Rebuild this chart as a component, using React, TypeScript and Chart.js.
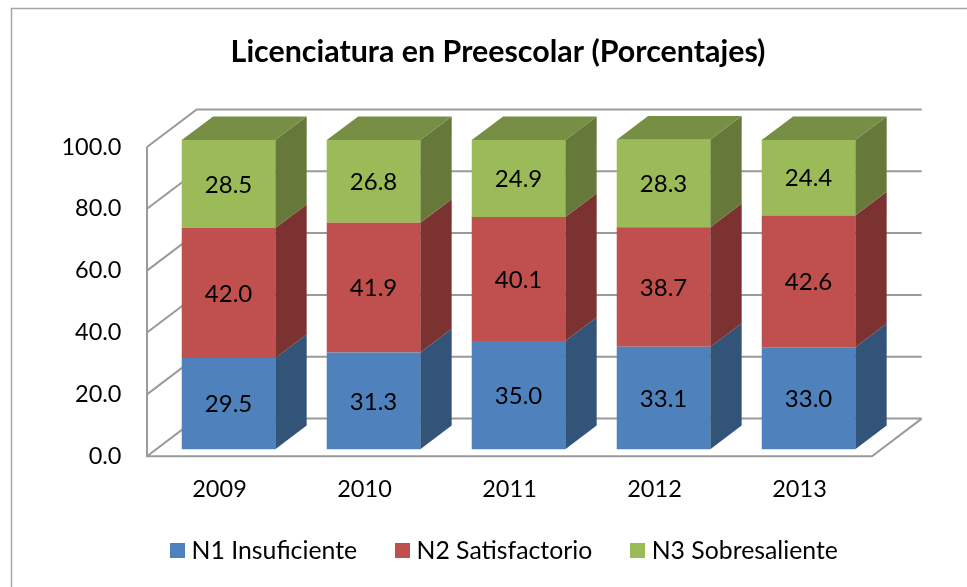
import React, { useEffect, useRef } from "react";
import { Chart, registerables } from "chart.js";

Chart.register(...registerables);

const years = ["2009", "2010", "2011", "2012", "2013"];
const n1 = [29.5, 31.3, 35.0, 33.1, 33.0];
const n2 = [42.0, 41.9, 40.1, 38.7, 42.6];
const n3 = [28.5, 26.8, 24.9, 28.3, 24.4];
const seriesNames = ["N1 Insuficiente", "N2 Satisfactorio", "N3 Sobresaliente"];
const titleText = "Licenciatura en Preescolar (Porcentajes)";

const front = ["#4F81BD", "#C0504D", "#9BBB59"];
const side = ["#325479", "#7B3230", "#66793A"];
const topFace = ["#3F658F", "#94403D", "#778F45"];
const FONT = "Lato, sans-serif";
const GRID = "#9a9a9a";

const WALL = { dx: 49.7, dy: -37.6 };
const BAR_SHIFT = { dx: 9, dy: -7 };
const BAR_DEPTH = { dx: 31.4, dy: -23.6 };

function swatch(color: string) {
  const c = document.createElement("canvas");
  c.width = 15;
  c.height = 15;
  const g = c.getContext("2d")!;
  g.fillStyle = color;
  g.fillRect(0, 0, 15, 15);
  return c;
}

const poly = (ctx: CanvasRenderingContext2D, pts: number[][], color: string) => {
  ctx.fillStyle = color;
  ctx.beginPath();
  pts.forEach((p, i) => (i ? ctx.lineTo(p[0], p[1]) : ctx.moveTo(p[0], p[1])));
  ctx.closePath();
  ctx.fill();
};

const framePlugin = {
  id: "frame",
  afterLayout(chart: any) {
    // the legend's tall padding overlaps the axis box: let the axis labels paint past it
    const x = chart.scales.x;
    x.bottom = x.top + 60;
    const lg = chart.legend;
    lg.left += 9;
    lg.right += 9;
    lg.top += 1;
    lg.bottom += 1;
  },
  beforeDraw(chart: any) {
    const { ctx } = chart;
    ctx.save();
    ctx.fillStyle = "#ffffff";
    ctx.fillRect(0, 0, chart.width, chart.height);
    ctx.strokeStyle = "#a6a6a6";
    ctx.lineWidth = 1.5;
    ctx.strokeRect(11.5, 8.5, chart.width + 20, chart.height + 20);
    ctx.restore();
  },
};

const wallPlugin = {
  id: "wall3d",
  beforeDatasetsDraw(chart: any) {
    const { ctx, chartArea: a, scales } = chart;
    const y = scales.y;
    ctx.save();
    ctx.strokeStyle = GRID;
    ctx.lineWidth = 2;
    ctx.lineJoin = "miter";
    ctx.beginPath();
    y.ticks.forEach((t: any) => {
      const py = y.getPixelForValue(t.value);
      ctx.moveTo(a.left, py);
      ctx.lineTo(a.left + WALL.dx, py + WALL.dy);
      ctx.lineTo(a.right + WALL.dx, py + WALL.dy);
    });
    ctx.moveTo(a.left, a.top);
    ctx.lineTo(a.left, a.bottom);
    ctx.lineTo(a.right, a.bottom);
    ctx.lineTo(a.right + WALL.dx, a.bottom + WALL.dy);
    ctx.stroke();
    ctx.restore();

    ctx.save();
    ctx.translate(BAR_SHIFT.dx, BAR_SHIFT.dy);
    const { dx, dy } = BAR_DEPTH;
    chart.data.datasets.forEach((_: any, di: number) => {
      chart.getDatasetMeta(di).data.forEach((el: any) => {
        const l = el.x - el.width / 2;
        const r = el.x + el.width / 2;
        poly(ctx, [[r, el.base], [r + dx, el.base + dy], [r + dx, el.y + dy], [r, el.y]], side[di]);
        if (di === chart.data.datasets.length - 1) {
          poly(ctx, [[l, el.y], [l + dx, el.y + dy], [r + dx, el.y + dy], [r, el.y]], topFace[di]);
        }
      });
    });
  },
  afterDatasetsDraw(chart: any) {
    const { ctx } = chart;
    ctx.fillStyle = "#000000";
    ctx.font = `24px ${FONT}`;
    ctx.textAlign = "center";
    ctx.textBaseline = "middle";
    chart.data.datasets.forEach((ds: any, di: number) => {
      chart.getDatasetMeta(di).data.forEach((el: any, i: number) => {
        ctx.fillText(ds.data[i].toFixed(1), el.x, (el.y + el.base) / 2 + 1);
      });
    });
    ctx.restore();
  },
};

export default function App() {
  const ref = useRef<HTMLCanvasElement>(null);
  useEffect(() => {
    const swatches = front.map(swatch);
    const chart = new Chart(ref.current!, {
      type: "bar",
      plugins: [framePlugin, wallPlugin],
      data: {
        labels: years,
        datasets: [n1, n2, n3].map((d, i) => ({
          label: seriesNames[i],
          data: d,
          backgroundColor: front[i],
          borderWidth: 0,
          clip: false as any,
          barPercentage: 0.645,
          categoryPercentage: 1,
        })),
      },
      options: {
        responsive: false,
        animation: false,
        layout: { padding: { left: 29, right: 0, top: 34, bottom: 15 } },
        plugins: {
          tooltip: { enabled: false },
          title: {
            display: true,
            text: titleText,
            color: "#000000",
            font: { family: FONT, size: 30.4, weight: "bold" },
            padding: { top: 0, bottom: 76.5 },
          },
          legend: {
            position: "bottom",
            labels: {
              color: "#000000",
              font: { family: FONT, size: 24.8 },
              usePointStyle: true,
              pointStyleWidth: 3,
              padding: 44,
              generateLabels: (c: any) =>
                c.data.datasets.map((ds: any, i: number) => ({
                  text: ds.label,
                  fontColor: "#000000",
                  fillStyle: front[i],
                  strokeStyle: front[i],
                  lineWidth: 0,
                  pointStyle: swatches[i],
                  datasetIndex: i,
                  hidden: false,
                })),
            },
          },
        },
        scales: {
          x: {
            stacked: true,
            grid: { display: false },
            border: { display: false },
            ticks: { color: "#000000", font: { family: FONT, size: 23.5 }, padding: 11, maxRotation: 0 },
            afterFit: (s: any) => {
              s.height = 37;
            },
          },
          y: {
            stacked: true,
            min: 0,
            max: 100,
            grid: { display: false },
            border: { display: false },
            ticks: {
              stepSize: 20,
              color: "#000000",
              font: { family: FONT, size: 23.5 },
              padding: 17.5,
              callback: (v: any) => Number(v).toFixed(1),
            },
            afterFit: (s: any) => {
              s.width = 118;
            },
          },
          spacer: {
            position: "right",
            grid: { display: false },
            border: { display: false },
            ticks: { display: false },
            afterFit: (s: any) => {
              s.width = 95;
            },
          },
        },
      },
    } as any);
    return () => chart.destroy();
  }, []);
  return (
    <canvas
      ref={ref}
      width={967}
      height={587}
      style={{ position: "absolute", left: 0, top: 0, display: "block" }}
    />
  );
}
